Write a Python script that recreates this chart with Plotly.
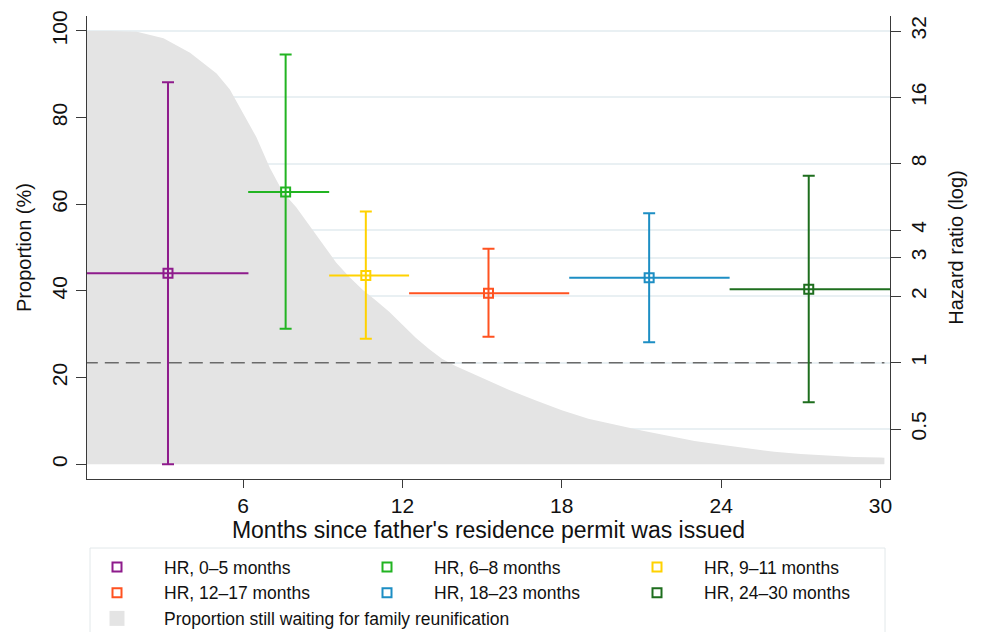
import plotly.graph_objects as go

# Survival curve: proportion still waiting (%) by month
surv_months = [0, 1, 2, 3, 4, 5, 5.5, 6, 6.5, 7, 7.5, 8, 8.5, 9, 9.5, 10, 10.5, 11, 11.5,
               12, 12.5, 13, 13.5, 14, 15, 16, 17, 18, 19, 20, 21, 22, 23, 24, 25, 26,
               27, 28, 29, 30, 30.15]
surv_pct = [100, 100, 99.8, 98.3, 95, 90.2, 86.5, 81, 75.5, 68.5, 62.8, 59.3, 55, 50.8,
            46.6, 43.2, 40.3, 37.8, 35.2, 32.2, 29.2, 26.6, 24.3, 22.7, 19.9, 17.2, 14.8,
            12.5, 10.5, 9.1, 7.8, 6.6, 5.4, 4.5, 3.7, 2.9, 2.4, 2.0, 1.7, 1.55, 1.5]
surv_label = "Proportion still waiting for family reunification"

# Hazard ratios by period
hr_labels = ["HR, 0–5 months", "HR, 6–8 months", "HR, 9–11 months",
             "HR, 12–17 months", "HR, 18–23 months", "HR, 24–30 months"]
hr_x = [3.17, 7.6, 10.62, 15.24, 21.29, 27.3]
hr_start = [0.0, 6.19, 9.24, 12.25, 18.28, 24.32]
hr_end = [6.2, 9.24, 12.25, 18.28, 24.32, 30.5]
hr_val = [2.545, 5.95, 2.49, 2.065, 2.43, 2.154]
hr_lo = [0.346, 1.427, 1.285, 1.312, 1.237, 0.661]
hr_hi = [18.73, 25.0, 4.85, 3.29, 4.77, 7.06]
hr_colors = ["#8E1B8C", "#22B422", "#FFD200", "#FF5220", "#1D8EC4", "#1E6E1E"]

x_ticks = [6, 12, 18, 24, 30]
left_ticks = [0, 20, 40, 60, 80, 100]
right_ticks = [0.5, 1, 2, 3, 4, 8, 16, 32]
right_ticklabels = ["0.5", "1", "2", "3", "4", "8", "16", "32"]
ref_line_x = [0, 30.15]
ref_line_y = [1, 1]

FONT = "Arial, Liberation Sans, sans-serif"
AX = "#3a3a3a"
AREA = "#e4e4e4"

W, H = 981, 632
L, R, T, B = 87, 91, 16, 153
PW, PH = W - L - R, H - T - B


def px_to_paper_x(px):
    return (px - L) / PW


def px_to_paper_y(py):
    return (H - B - py) / PH


fig = go.Figure()

fig.add_trace(go.Scatter(
    x=surv_months, y=surv_pct, mode="lines", fill="tozeroy",
    fillcolor=AREA, line=dict(width=0, color=AREA),
    name=surv_label, showlegend=False, yaxis="y", hoverinfo="skip"))

# legend entry for the area (square swatch)
fig.add_trace(go.Scatter(
    x=[None], y=[None], mode="markers", yaxis="y", name=surv_label, legendrank=7,
    marker=dict(symbol="square", size=15, color=AREA)))

fig.add_trace(go.Scatter(
    x=ref_line_x, y=ref_line_y, mode="lines", yaxis="y2",
    line=dict(color="#6a6a6a", width=1.5, dash="14px,7px"),
    showlegend=False, hoverinfo="skip"))

for i in range(len(hr_labels)):
    fig.add_trace(go.Scatter(
        x=[hr_x[i]], y=[hr_val[i]], mode="markers", yaxis="y2",
        name=hr_labels[i], legendrank=i + 1,
        marker=dict(symbol="square-open", size=9, color=hr_colors[i],
                    line=dict(width=2, color=hr_colors[i])),
        error_y=dict(type="data", symmetric=False,
                     array=[hr_hi[i] - hr_val[i]], arrayminus=[hr_val[i] - hr_lo[i]],
                     color=hr_colors[i], thickness=2, width=6),
        error_x=dict(type="data", symmetric=False,
                     array=[hr_end[i] - hr_x[i]], arrayminus=[hr_x[i] - hr_start[i]],
                     color=hr_colors[i], thickness=2, width=0),
    ))

# legend frame
fig.add_shape(type="rect", xref="paper", yref="paper",
              x0=px_to_paper_x(90), x1=px_to_paper_x(885),
              y0=px_to_paper_y(645), y1=px_to_paper_y(548),
              line=dict(color="#e2e8ea", width=1), fillcolor="rgba(0,0,0,0)")

fig.update_layout(
    width=W, height=H,
    margin=dict(l=L, r=R, t=T, b=B, autoexpand=False),
    paper_bgcolor="white", plot_bgcolor="white",
    font=dict(family=FONT, color="#111111"),
    xaxis=dict(range=[0.12, 30.36], tickvals=x_ticks, ticks="outside", ticklen=8,
               tickwidth=1.3, tickcolor=AX, showline=True, linecolor=AX, linewidth=1.3,
               showgrid=False, zeroline=False, tickfont=dict(size=21), automargin=False,
               title=dict(text="Months since father's residence permit was issued",
                          font=dict(size=23), standoff=0)),
    yaxis=dict(range=[-3.39, 103.46], tickvals=left_ticks, ticks="outside", ticklen=10,
               tickwidth=1.3, tickcolor=AX, showline=True, linecolor=AX, linewidth=1.3,
               showgrid=False, zeroline=False, tickangle=-90, tickfont=dict(size=21),
               automargin=False,
               title=dict(text="Proportion (%)", font=dict(size=20), standoff=11)),
    yaxis2=dict(type="log", range=[-0.5278, 1.5732], overlaying="y", side="right",
                tickvals=right_ticks, ticktext=right_ticklabels, ticks="outside",
                ticklen=10, tickwidth=1.3, tickcolor=AX, showline=True, linecolor=AX,
                linewidth=1.3, showgrid=True, gridcolor="#e9f0f3", gridwidth=1.5,
                zeroline=False, tickangle=-90, tickfont=dict(size=21), automargin=False,
                title=dict(text="Hazard ratio (log)", font=dict(size=20), standoff=19)),
    legend=dict(orientation="h", x=px_to_paper_x(70), y=px_to_paper_y(549),
                xanchor="left", yanchor="top",
                borderwidth=0, bgcolor="rgba(0,0,0,0)",
                font=dict(size=17.5, family=FONT), entrywidth=171, entrywidthmode="pixels",
                itemwidth=84, traceorder="normal"),
    showlegend=True,
)

fig.write_html("out.html", config={"displayModeBar": False},
               post_script="document.body.style.margin='0';")
